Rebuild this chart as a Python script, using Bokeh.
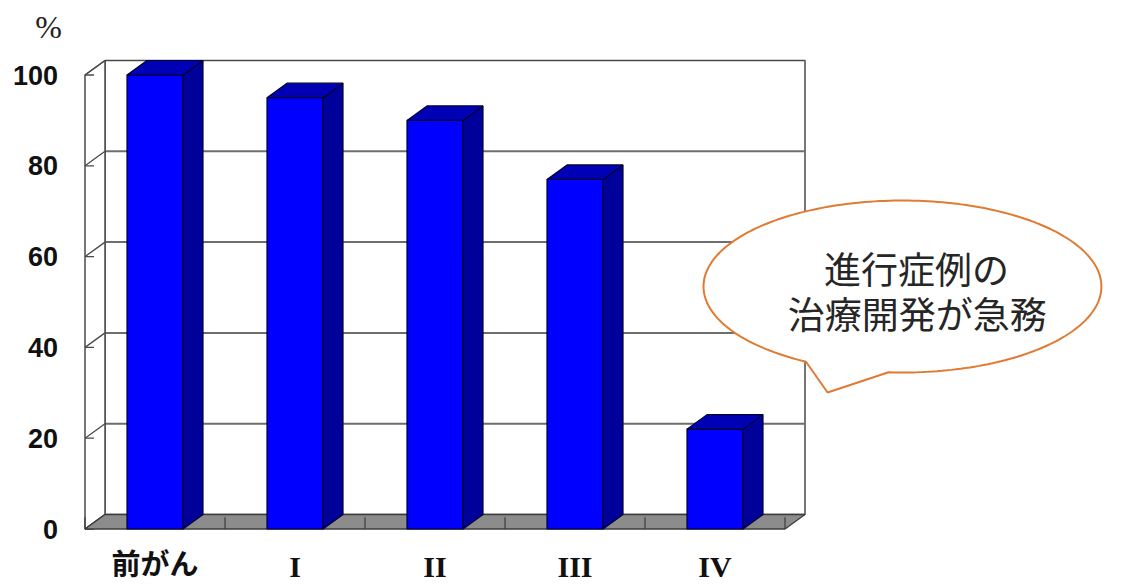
import numpy as np
from bokeh.plotting import figure
from bokeh.models import Range1d
from bokeh.core.properties import value
from bokeh.embed import file_html
from bokeh.resources import INLINE

# 5-year survival by stage (%)
categories = ["前がん", "I", "II", "III", "IV"]
survival = [100, 95, 90, 77, 22]
y_ticks = [0, 20, 40, 60, 80, 100]
y_tick_labels = ["0", "20", "40", "60", "80", "100"]
callout_lines = ["進行症例の", "治療開発が急務"]

W, H = 1136, 585

# linear mapping: one category = 140 px, one percent = 4.54 px
X0_PX, Y0_PX = 154.5, 528.5
PX_PER_CAT, PX_PER_PCT = 140.0, 4.54

# pseudo-3D depth of the chart box (in data units)
DX = 20 / PX_PER_CAT
DY = 14.5 / PX_PER_PCT
HALF_W = 0.2
X_LO, X_HI = -0.5, len(categories) - 0.5
Y_LO, Y_HI = 0, 100

p = figure(
    width=W, height=H,
    x_range=Range1d(-X0_PX / PX_PER_CAT, (W - X0_PX) / PX_PER_CAT),
    y_range=Range1d(-(H - Y0_PX) / PX_PER_PCT, Y0_PX / PX_PER_PCT),
    x_axis_type=None, y_axis_type=None,
    toolbar_location=None, output_backend="svg",
    min_border=0, outline_line_color=None,
    background_fill_color="white", border_fill_color="white",
)

WALL = "#4a4a4a"
GRID = "#6e6e6e"

# back wall
p.quad(left=[X_LO + DX], right=[X_HI + DX], bottom=[Y_LO + DY], top=[Y_HI + DY],
       fill_color="white", line_color=WALL, line_width=1.5)
inner = [t for t in y_ticks if Y_LO < t < Y_HI]
p.segment(x0=[X_LO + DX] * len(inner), x1=[X_HI + DX] * len(inner),
          y0=[t + DY for t in inner], y1=[t + DY for t in inner],
          line_color=GRID, line_width=2)

# left side wall
p.patch(x=[X_LO, X_LO + DX, X_LO + DX, X_LO], y=[Y_LO, Y_LO + DY, Y_HI + DY, Y_HI],
        fill_color="white", line_color=WALL, line_width=1.5)
p.segment(x0=[X_LO] * len(y_ticks), x1=[X_LO + DX] * len(y_ticks),
          y0=y_ticks, y1=[t + DY for t in y_ticks], line_color=WALL, line_width=1.3)
p.segment(x0=[X_LO] * len(y_ticks), x1=[X_LO + 9 / PX_PER_CAT] * len(y_ticks),
          y0=y_ticks, y1=y_ticks, line_color=WALL, line_width=1.3)

# floor
p.patch(x=[X_LO, X_HI, X_HI + DX, X_LO + DX], y=[Y_LO, Y_LO, Y_LO + DY, Y_LO + DY],
        fill_color="#8c8c8c", line_color="#3c3c3c", line_width=1.3)
bounds = [X_LO + k for k in range(len(categories) + 1)]
p.segment(x0=bounds, x1=bounds, y0=[Y_LO] * len(bounds),
          y1=[Y_LO + 2.6] * len(bounds), line_color="#3c3c3c", line_width=1.2)

# bars: front, side and top faces
xs = np.arange(len(categories), dtype=float)
vals = np.array(survival, dtype=float)
p.quad(left=xs - HALF_W, right=xs + HALF_W, bottom=Y_LO, top=vals,
       fill_color="#0000FF", line_color="#000033", line_width=1.2)
side_x = [[x + HALF_W, x + HALF_W + DX, x + HALF_W + DX, x + HALF_W] for x in xs]
side_y = [[Y_LO, Y_LO + DY, v + DY, v] for v in vals]
p.patches(xs=side_x, ys=side_y, fill_color="#00009A", line_color="#000033", line_width=1.2)
top_x = [[x - HALF_W, x + HALF_W, x + HALF_W + DX, x - HALF_W + DX] for x in xs]
top_y = [[v, v, v + DY, v + DY] for v in vals]
p.patches(xs=top_x, ys=top_y, fill_color="#0000B4", line_color="#000033", line_width=1.2)

# speech bubble with a tail pointing down-left
cx, cy = 5.339, 53.41
rx, ry = 1.421, 18.94
t = np.radians(np.linspace(-94, 241, 240))
bx = list(cx + rx * np.cos(t)) + [4.804]
by = list(cy + ry * np.sin(t)) + [30.07]
p.patch(x=bx, y=by, fill_color="white", line_color="#E07B33", line_width=2)
p.text(x=[5.44, 5.445], y=[57.4, 47.5], text=callout_lines,
       text_font=value("Noto Sans CJK JP"), text_font_size="37px",
       text_color="#262626", text_align="center", text_baseline="middle")

# value axis labels
p.text(x=[X_LO] * len(y_ticks), y=y_ticks, text=y_tick_labels, x_offset=-27,
       text_font=value("Liberation Sans"), text_font_size="27px", text_font_style="bold",
       text_color="#111111", text_align="right", text_baseline="middle")
p.text(x=[-0.76], y=[110.6], text=["%"], text_font=value("Liberation Serif"),
       text_font_size="32px", text_color="#222222", text_align="center",
       text_baseline="middle")

# category labels
p.text(x=xs[:1], y=[-7.2], text=categories[:1], text_font=value("Noto Sans CJK JP"),
       text_font_size="29px", text_font_style="bold", text_color="#111111",
       text_align="center", text_baseline="middle")
p.text(x=xs[1:], y=[-8.2] * (len(categories) - 1), text=categories[1:],
       text_font=value("Liberation Serif"), text_font_size="30px",
       text_font_style="bold", text_color="#111111",
       text_align="center", text_baseline="middle")

open("out.html", "w").write(file_html(p, INLINE))
